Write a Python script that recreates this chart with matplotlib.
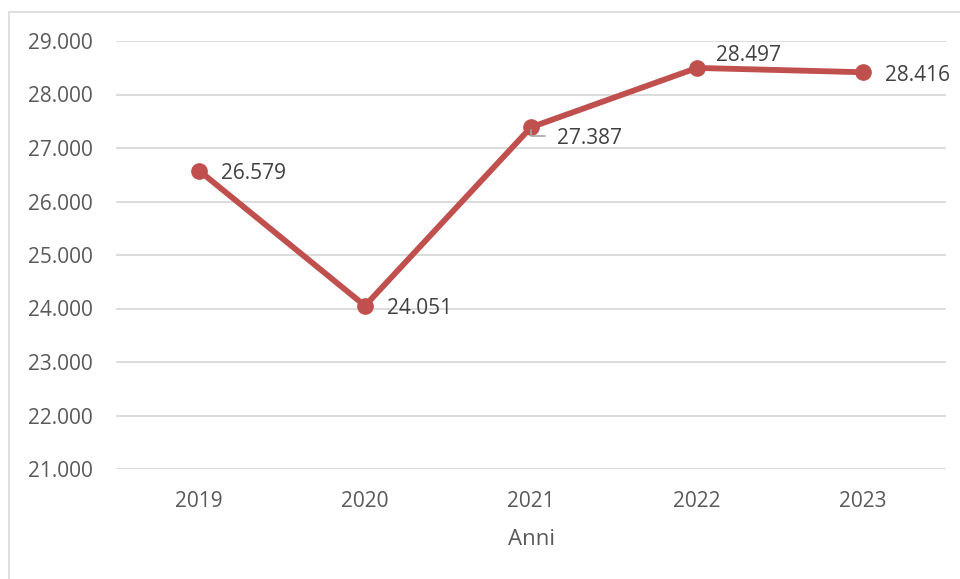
import matplotlib.pyplot as plt
from matplotlib.patches import Rectangle

anni = ['2019', '2020', '2021', '2022', '2023']
valori = [26579, 24051, 27387, 28497, 28416]
etichette = ['26.579', '24.051', '27.387', '28.497', '28.416']
y_ticks = [21000, 22000, 23000, 24000, 25000, 26000, 27000, 28000, 29000]
y_labels = ['21.000', '22.000', '23.000', '24.000', '25.000', '26.000', '27.000', '28.000', '29.000']

# label offsets in pixels (dx, dy) relative to the point
offsets = [(22, -3), (22, -3), (26, -11), (19, 12), (22, -3)]

plt.rcParams['font.family'] = ['Open Sans', 'DejaVu Sans']
testo = '#595959'
rosso = '#C0504D'

fig = plt.figure(figsize=(9.6, 5.79), dpi=100)
fig.patches.append(Rectangle((9 / 960, -0.1), 1.2, 1 - 12 / 579 + 0.1, transform=fig.transFigure,
                             fill=False, edgecolor='#D9D9D9', linewidth=1.2))
ax = fig.add_axes([116 / 960, 1 - 469 / 579, 830 / 960, 428 / 579])

x = list(range(len(anni)))
ax.plot(x, valori, color=rosso, linewidth=4.2, marker='o', markersize=11, zorder=3)

for i, (v, lab) in enumerate(zip(valori, etichette)):
    dx, dy = offsets[i]
    ax.annotate(lab, (x[i], v), xytext=(dx, dy), textcoords='offset pixels',
                ha='left', va='center', fontsize=15, color='#404040', zorder=4)
# leader line for 2021 label
ax.annotate('', (x[2], valori[2]), xytext=(x[2] + 0.1, valori[2] - 160),
            arrowprops=dict(arrowstyle='-', color='#A6A6A6', lw=1.2,
                            connectionstyle='angle,angleA=0,angleB=90,rad=0'))

ax.set_xlim(-0.5, len(anni) - 0.5)
ax.set_ylim(21000, 29000)
ax.set_yticks(y_ticks)
ax.set_yticklabels(y_labels)
ax.set_xticks(x)
ax.set_xticklabels(anni)
ax.grid(axis='y', color='#D9D9D9', linewidth=1.3)
ax.set_axisbelow(True)
for s in ax.spines.values():
    s.set_visible(False)
ax.tick_params(axis='both', length=0, colors=testo, labelsize=15)
ax.tick_params(axis='y', pad=17)
ax.tick_params(axis='x', pad=16)
ax.set_xlabel('Anni', color=testo, fontsize=16, labelpad=12)

fig.savefig('out.png', dpi=100)
